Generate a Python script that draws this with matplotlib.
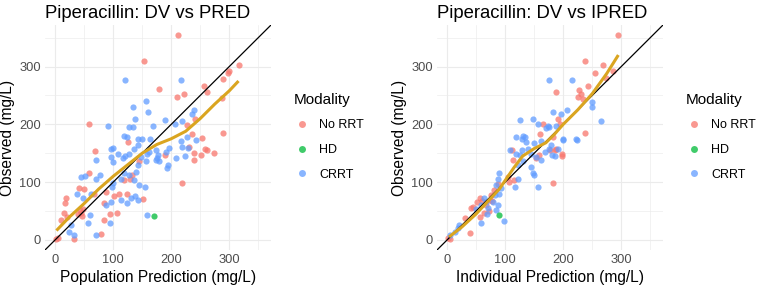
import numpy as np
import matplotlib
matplotlib.use("Agg")
import matplotlib.pyplot as plt
from matplotlib.lines import Line2D

plt.rcParams['font.family'] = ['Liberation Sans', 'DejaVu Sans']

# ---- data ----
modalities = ['No RRT', 'HD', 'CRRT']
colors = {'No RRT': '#F8766D', 'HD': '#00BA38', 'CRRT': '#619CFF'}

# DV vs PRED
pred_norrt_x = [212, 153, 179, 210, 222, 256, 262, 316, 300, 298, 289, 288, 241, 228, 235, 253, 290,
                259, 261, 273, 252, 239, 239, 230, 190, 219, 58, 126, 68, 58, 119, 129, 133, 41, 50,
                18, 17, 87, 84, 101, 110, 124, 152, 95, 107, 15, 21, 10, 42, 44, 46, 48, 40, 84, 79,
                4, 1, 33, 145, 66]
pred_norrt_y = [354, 310, 262, 247, 252, 266, 256, 303, 293, 288, 279, 245, 210, 198, 183, 177, 185,
                158, 155, 151, 147, 151, 138, 161, 147, 98, 200, 170, 153, 115, 103, 105, 113, 89, 88,
                73, 63, 83, 63, 76, 79, 79, 71, 44, 46, 46, 40, 35, 52, 47, 42, 54, 45, 34, 10,
                3, 1, 2, 136, 80]
pred_crrt_x = [120, 216, 157, 160, 134, 137, 91, 127, 134, 169, 119, 123, 142, 150, 164, 190, 207, 218,
               239, 236, 227, 216, 218, 229, 243, 223, 209, 196, 191, 178, 179, 195, 193, 173, 96, 99,
               108, 121, 127, 136, 142, 116, 70, 96, 99, 147, 159, 162, 173, 176, 156, 142, 44, 51,
               70, 77, 113, 119, 127, 136, 144, 155, 38, 47, 61, 87, 96, 113, 123, 138, 142, 130,
               159, 60, 56, 27, 33, 24, 70, 95, 100, 98, 140]
pred_crrt_y = [277, 276, 240, 222, 230, 209, 197, 195, 196, 197, 179, 178, 174, 175, 174, 207, 200, 205,
               224, 218, 178, 171, 161, 159, 172, 145, 142, 159, 152, 146, 136, 130, 124, 138, 157, 159,
               148, 145, 149, 158, 164, 142, 139, 144, 135, 144, 148, 152, 155, 141, 136, 129, 109, 111,
               106, 112, 106, 115, 112, 103, 95, 92, 80, 72, 79, 60, 66, 69, 63, 75, 69, 72,
               43, 43, 29, 26, 9, 14, 9, 29, 98, 92, 118]
pred_hd_x = [171]
pred_hd_y = [42]
pred_smooth_x = [2, 25, 50, 75, 100, 125, 150, 175, 200, 225, 250, 275, 300, 316]
pred_smooth_y = [16, 40, 63, 88, 110, 130, 150, 165, 175, 188, 210, 235, 258, 275]

# DV vs IPRED
ipred_norrt_x = [294, 238, 268, 286, 254, 274, 188, 227, 231, 225, 234, 242, 191, 194, 238, 182, 165,
                 160, 111, 113, 153, 158, 178, 182, 104, 107, 81, 76, 73, 67, 56, 52, 44, 41, 64, 56,
                 30, 40, 2, 4, 188, 185, 197, 198, 115, 87, 78, 60, 72]
ipred_norrt_y = [354, 310, 303, 293, 288, 280, 256, 260, 253, 247, 244, 266, 210, 200, 185, 178, 200,
                 183, 155, 138, 142, 147, 155, 98, 109, 100, 86, 78, 69, 60, 72, 66, 57, 55, 46, 40,
                 37, 12, 3, 1, 158, 155, 149, 145, 104, 97, 68, 68, 50]
ipred_crrt_x = [176, 215, 182, 196, 207, 125, 147, 157, 173, 171, 130, 134, 250, 249, 265, 176, 188, 199,
                222, 118, 129, 136, 150, 161, 139, 129, 119, 109, 125, 145, 153, 168, 176, 162, 145, 130,
                122, 147, 116, 122, 156, 150, 90, 87, 84, 93, 90, 82, 79, 87, 84, 64, 67, 59, 70, 59,
                21, 13, 4, 18, 97, 200, 223, 179, 181, 185, 191, 49, 68]
ipred_crrt_y = [276, 277, 221, 218, 224, 208, 209, 201, 197, 194, 179, 178, 238, 230, 205, 195, 197, 175,
                175, 178, 174, 169, 167, 171, 158, 155, 149, 155, 147, 149, 144, 152, 158, 138, 126, 136,
                129, 115, 92, 106, 92, 112, 115, 106, 95, 89, 80, 78, 66, 60, 52, 72, 66, 60, 55, 29,
                26, 14, 9, 20, 33, 172, 172, 164, 147, 145, 158, 54, 45]
ipred_hd_x = [90]
ipred_hd_y = [43]
ipred_smooth_x = [3, 25, 50, 75, 90, 100, 115, 130, 150, 170, 185, 200, 225, 250, 275, 295]
ipred_smooth_y = [5, 22, 45, 72, 88, 103, 125, 145, 158, 168, 183, 200, 225, 253, 288, 320]

titles = ['Piperacillin: DV vs PRED', 'Piperacillin: DV vs IPRED']
xlabels = ['Population Prediction (mg/L)', 'Individual Prediction (mg/L)']

fig = plt.figure(figsize=(7.62, 2.87), dpi=100)
W, H = 762, 287
ax1 = fig.add_axes([45 / W, 1 - 250 / H, 226 / W, 225 / H])
ax2 = fig.add_axes([437 / W, 1 - 250 / H, 226 / W, 225 / H])

panels = [
    (ax1, pred_norrt_x, pred_norrt_y, pred_hd_x, pred_hd_y, pred_crrt_x, pred_crrt_y,
     pred_smooth_x, pred_smooth_y),
    (ax2, ipred_norrt_x, ipred_norrt_y, ipred_hd_x, ipred_hd_y, ipred_crrt_x, ipred_crrt_y,
     ipred_smooth_x, ipred_smooth_y),
]

lim = (-17.7, 372)
for i, (ax, nx, ny, hx, hy, cx, cy, sx, sy) in enumerate(panels):
    ax.set_xlim(lim)
    ax.set_ylim(lim)
    for sp in ax.spines.values():
        sp.set_visible(False)
    ax.set_xticks([0, 100, 200, 300])
    ax.set_yticks([0, 100, 200, 300])
    ax.set_xticks([50, 150, 250, 350], minor=True)
    ax.set_yticks([50, 150, 250, 350], minor=True)
    ax.grid(which='major', color='#EBEBEB', lw=0.8)
    ax.grid(which='minor', color='#EBEBEB', lw=0.45)
    ax.set_axisbelow(True)
    ax.tick_params(which='both', length=0, labelsize=9.3, labelcolor='#4D4D4D', pad=3)

    ax.scatter(nx, ny, s=20, color=colors['No RRT'], alpha=0.75, lw=0, zorder=2)
    ax.scatter(cx, cy, s=20, color=colors['CRRT'], alpha=0.75, lw=0, zorder=2)
    ax.scatter(hx, hy, s=20, color=colors['HD'], alpha=0.75, lw=0, zorder=2)
    ax.plot(lim, lim, color='black', lw=0.9, zorder=3)
    ax.plot(sx, sy, color='#DAA520', lw=2.2, zorder=4, solid_capstyle='butt')

    ax.set_title(titles[i], loc='left', fontsize=13.3, pad=5)
    ax.set_xlabel(xlabels[i], fontsize=11.2, labelpad=3)
    ax.set_ylabel('Observed (mg/L)', fontsize=11.2, labelpad=3)

    handles = [Line2D([], [], marker='o', ls='', color=colors[m], alpha=0.75,
                      markersize=5, markeredgewidth=0) for m in modalities]
    leg = ax.legend(handles, modalities, title='Modality', loc='upper left',
                    bbox_to_anchor=(1.08, 0.72), frameon=False, fontsize=9,
                    title_fontsize=11, labelspacing=1.0, handletextpad=0.8,
                    handlelength=1.2, borderaxespad=0, alignment='left')

fig.savefig('out.png', dpi=100)
